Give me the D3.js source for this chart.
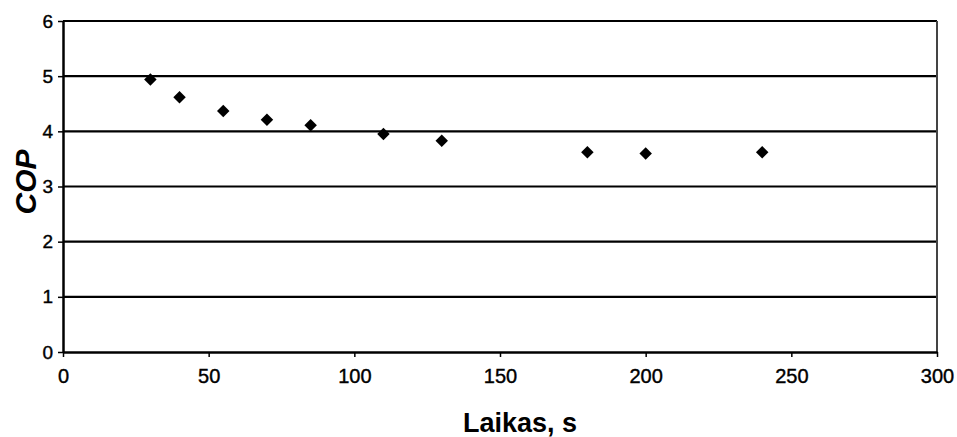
<!DOCTYPE html>
<html>
<head>
<meta charset="utf-8">
<script src="https://cdn.jsdelivr.net/npm/d3@7"></script>
<style>
  html, body { margin: 0; padding: 0; background: #fff; }
  svg { display: block; }
  text { font-family: "Liberation Sans", Arial, sans-serif; fill: #000; }
</style>
</head>
<body>
<svg id="chart" width="957" height="437"></svg>
<script>
// Time (s) and coefficient of performance
const laikas = [30, 40, 55, 70, 85, 110, 130, 180, 200, 240];
const cop    = [4.94, 4.62, 4.37, 4.21, 4.11, 3.95, 3.83, 3.62, 3.60, 3.62];
const xTicks = [0, 50, 100, 150, 200, 250, 300];
const yTicks = [0, 1, 2, 3, 4, 5, 6];

const svg = d3.select("#chart");
const margin = { left: 63, right: 20, top: 21, bottom: 85 };
const W = 957, H = 437;

const x = d3.scaleLinear().domain([0, 300]).range([margin.left, W - margin.right]);
const y = d3.scaleLinear().domain([0, 6]).range([H - margin.bottom, margin.top]);

// horizontal gridlines
svg.append("g")
  .selectAll("line")
  .data(yTicks.filter(d => d > 0))
  .join("line")
  .attr("x1", x(0)).attr("x2", x(300))
  .attr("y1", d => y(d)).attr("y2", d => y(d))
  .attr("stroke", "#000").attr("stroke-width", 2.2);

// right border of plot area
svg.append("line")
  .attr("x1", x(300)).attr("x2", x(300))
  .attr("y1", y(6)).attr("y2", y(0))
  .attr("stroke", "#444").attr("stroke-width", 2);

// axes
const xAxis = d3.axisBottom(x).tickValues(xTicks).tickFormat(d3.format("d"))
  .tickSize(5).tickPadding(12).tickSizeOuter(0);
const yAxis = d3.axisLeft(y).tickValues(yTicks).tickFormat(d3.format("d"))
  .tickSize(5).tickPadding(5).tickSizeOuter(0);

const gx = svg.append("g").attr("transform", `translate(0,${y(0)})`).call(xAxis);
const gy = svg.append("g").attr("transform", `translate(${x(0)},0)`).call(yAxis);

[gx, gy].forEach(g => {
  g.select(".domain").attr("stroke", "#000").attr("stroke-width", 2.5);
  g.selectAll(".tick line").attr("stroke", "#000").attr("stroke-width", 1.5);
  g.selectAll(".tick text")
    .attr("font-size", 20)
    .attr("font-family", "'Liberation Sans', Arial, sans-serif")
    .attr("stroke", "#000").attr("stroke-width", 0.4)
    .attr("fill", "#000");
});
gx.selectAll(".tick text").attr("dy", "0.71em");
gy.selectAll(".tick text").attr("font-size", 19);

// data markers: small filled diamonds
svg.append("g")
  .selectAll("path")
  .data(laikas.map((t, i) => [t, cop[i]]))
  .join("path")
  .attr("transform", d => `translate(${x(d[0])},${y(d[1])}) rotate(45)`)
  .attr("d", d3.symbol().type(d3.symbolSquare).size(78))
  .attr("fill", "#000");

// axis titles
svg.append("text")
  .attr("x", 520).attr("y", 432)
  .attr("text-anchor", "middle")
  .attr("font-size", 27).attr("font-weight", "bold")
  .text("Laikas, s");

svg.append("text")
  .attr("transform", "translate(36,182) rotate(-90)")
  .attr("text-anchor", "middle")
  .attr("font-size", 30).attr("font-weight", "bold").attr("font-style", "italic")
  .text("COP");
</script>
</body>
</html>
